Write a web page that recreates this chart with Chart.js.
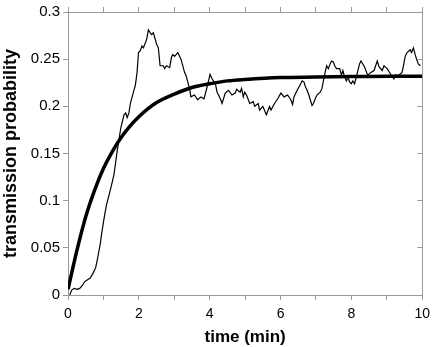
<!DOCTYPE html>
<html>
<head>
<meta charset="utf-8">
<script src="https://cdn.jsdelivr.net/npm/chart.js@4"></script>
<style>
  html, body { margin: 0; padding: 0; background: #fff; }
  #wrap { width: 436px; height: 347px; }
</style>
</head>
<body>
<div id="wrap"><canvas id="chart" width="436" height="347"></canvas></div>
<script>
// noisy measured trace
const timeNoisy = [0.05, 0.10, 0.17, 0.26, 0.33, 0.40, 0.47, 0.54, 0.63, 0.72,
    0.78, 0.82, 0.86, 0.91, 0.95, 1.00, 1.04, 1.09, 1.18, 1.25,
    1.30, 1.39, 1.49, 1.58, 1.63, 1.67, 1.72, 1.76, 1.81, 1.86,
    1.90, 1.95, 1.99, 2.04, 2.09, 2.13, 2.18, 2.22, 2.27, 2.32,
    2.36, 2.41, 2.50, 2.55, 2.60, 2.69, 2.73, 2.78, 2.87, 2.92,
    2.96, 3.01, 3.10, 3.19, 3.29, 3.33, 3.43, 3.47, 3.57, 3.66,
    3.75, 3.84, 3.93, 4.01, 4.07, 4.16, 4.21, 4.30, 4.35, 4.44,
    4.53, 4.63, 4.72, 4.76, 4.86, 4.90, 4.95, 4.99, 5.04, 5.13,
    5.23, 5.27, 5.37, 5.41, 5.50, 5.60, 5.69, 5.73, 5.83, 5.92,
    6.01, 6.10, 6.20, 6.29, 6.34, 6.38, 6.47, 6.57, 6.61, 6.66,
    6.70, 6.75, 6.80, 6.84, 6.89, 6.93, 6.98, 7.03, 7.12, 7.17,
    7.21, 7.26, 7.30, 7.35, 7.40, 7.44, 7.49, 7.53, 7.58, 7.67,
    7.72, 7.76, 7.81, 7.86, 7.90, 7.95, 8.00, 8.04, 8.09, 8.14,
    8.23, 8.27, 8.37, 8.46, 8.55, 8.64, 8.73, 8.78, 8.87, 8.92,
    9.01, 9.11, 9.20, 9.24, 9.34, 9.43, 9.47, 9.52, 9.57, 9.66,
    9.70, 9.75, 9.80, 9.84, 9.89, 9.95];
const probNoisy = [0.000, 0.005, 0.007, 0.006, 0.007, 0.010, 0.014, 0.016, 0.018, 0.024,
    0.029, 0.036, 0.044, 0.054, 0.065, 0.077, 0.086, 0.096, 0.109, 0.120,
    0.128, 0.153, 0.177, 0.191, 0.193, 0.188, 0.193, 0.203, 0.210, 0.217,
    0.222, 0.236, 0.257, 0.259, 0.264, 0.262, 0.267, 0.271, 0.281, 0.278,
    0.276, 0.278, 0.266, 0.262, 0.243, 0.243, 0.240, 0.243, 0.241, 0.252,
    0.255, 0.253, 0.257, 0.250, 0.236, 0.233, 0.219, 0.210, 0.212, 0.207,
    0.210, 0.208, 0.221, 0.234, 0.229, 0.224, 0.215, 0.208, 0.203, 0.214,
    0.217, 0.212, 0.214, 0.218, 0.215, 0.219, 0.210, 0.215, 0.212, 0.203,
    0.205, 0.200, 0.203, 0.196, 0.200, 0.191, 0.200, 0.196, 0.203, 0.208,
    0.214, 0.210, 0.212, 0.207, 0.202, 0.210, 0.217, 0.224, 0.227, 0.226,
    0.221, 0.217, 0.212, 0.207, 0.201, 0.203, 0.208, 0.212, 0.215, 0.219,
    0.227, 0.236, 0.243, 0.240, 0.245, 0.248, 0.247, 0.243, 0.240, 0.240,
    0.233, 0.238, 0.231, 0.227, 0.231, 0.226, 0.224, 0.227, 0.224, 0.231,
    0.245, 0.248, 0.242, 0.233, 0.236, 0.238, 0.248, 0.242, 0.238, 0.243,
    0.240, 0.234, 0.229, 0.233, 0.233, 0.236, 0.243, 0.253, 0.257, 0.260,
    0.257, 0.262, 0.255, 0.250, 0.245, 0.243];

// smooth fitted curve
const timeFit = [0, 0.25, 0.5, 0.75, 1, 1.25, 1.5, 1.75, 2, 2.5, 3, 3.5, 4, 4.5, 5, 6, 7, 8, 9, 10];
const probFit = [0.006, 0.047, 0.083, 0.111, 0.134, 0.152, 0.167, 0.179, 0.189, 0.204,
    0.213, 0.220, 0.224, 0.227, 0.2285, 0.2305, 0.231, 0.2315, 0.232, 0.232];

// axis ticks
const xTicks = [0, 1, 2, 3, 4, 5, 6, 7, 8, 9, 10];
const xLabels = ['0', '', '2', '', '4', '', '6', '', '8', '', '10'];
const yTicks = [0, 0.05, 0.1, 0.15, 0.2, 0.25, 0.3];
const yLabels = ['0', '0.05', '0.1', '0.15', '0.2', '0.25', '0.3'];

const axisGrey = '#9a9a9a';
const fontFam = '"Liberation Sans", Arial, Helvetica, sans-serif';

const toPoints = (xs, ys) => xs.map((x, i) => ({ x: x, y: ys[i] }));
const setTicks = vals => scale => { scale.ticks = vals.map(v => ({ value: v })); };

function hiddenAxis(pos, size, tickLen) {
    return {
        type: 'linear',
        position: pos,
        min: 0,
        max: pos === 'top' ? 10 : 0.3,
        afterBuildTicks: setTicks(pos === 'top' ? xTicks : yTicks),
        ticks: { display: false },
        grid: { drawOnChartArea: false, color: axisGrey, tickLength: tickLen, lineWidth: 1 },
        border: { display: true, color: axisGrey, width: 1 },
        afterFit: s => { if (pos === 'top') s.height = size; else s.width = size; }
    };
}

new Chart(document.getElementById('chart'), {
    type: 'line',
    data: {
        datasets: [
            {
                label: 'fit',
                data: toPoints(timeFit, probFit),
                borderColor: '#000',
                borderWidth: 3.5,
                pointRadius: 0,
                cubicInterpolationMode: 'monotone',
                fill: false
            },
            {
                label: 'measured',
                data: toPoints(timeNoisy, probNoisy),
                borderColor: '#000',
                borderWidth: 1.2,
                pointRadius: 0,
                tension: 0,
                fill: false
            }
        ]
    },
    options: {
        responsive: false,
        animation: false,
        layout: { padding: 0 },
        plugins: { legend: { display: false }, tooltip: { enabled: false } },
        scales: {
            x: {
                type: 'linear',
                position: 'bottom',
                min: 0,
                max: 10,
                afterBuildTicks: setTicks(xTicks),
                ticks: {
                    color: '#000',
                    padding: 6,
                    maxRotation: 0,
                    font: { family: fontFam, size: 14 },
                    callback: (v, i) => xLabels[i]
                },
                grid: { drawOnChartArea: false, color: axisGrey, tickLength: 5 },
                border: { color: axisGrey, width: 1 },
                title: {
                    display: true,
                    text: 'time (min)',
                    color: '#000',
                    font: { family: fontFam, size: 17, weight: 'bold' },
                    padding: { top: 0, bottom: -1 }
                },
                afterFit: s => { s.height = 52; }
            },
            y: {
                type: 'linear',
                position: 'left',
                min: 0,
                max: 0.3,
                afterBuildTicks: setTicks(yTicks),
                ticks: {
                    color: '#000',
                    padding: 3,
                    font: { family: fontFam, size: 15 },
                    callback: (v, i) => yLabels[i]
                },
                grid: { drawOnChartArea: false, color: axisGrey, tickLength: 5 },
                border: { color: axisGrey, width: 1 },
                title: {
                    display: true,
                    text: 'transmission probability',
                    color: '#000',
                    font: { family: fontFam, size: 18, weight: 'bold' },
                    padding: { top: 0, bottom: 0 }
                },
                afterFit: s => { s.width = 68; }
            },
            x2: hiddenAxis('top', 7, 5),
            y2: hiddenAxis('right', 7, -5)
        }
    }
});
</script>
</body>
</html>
